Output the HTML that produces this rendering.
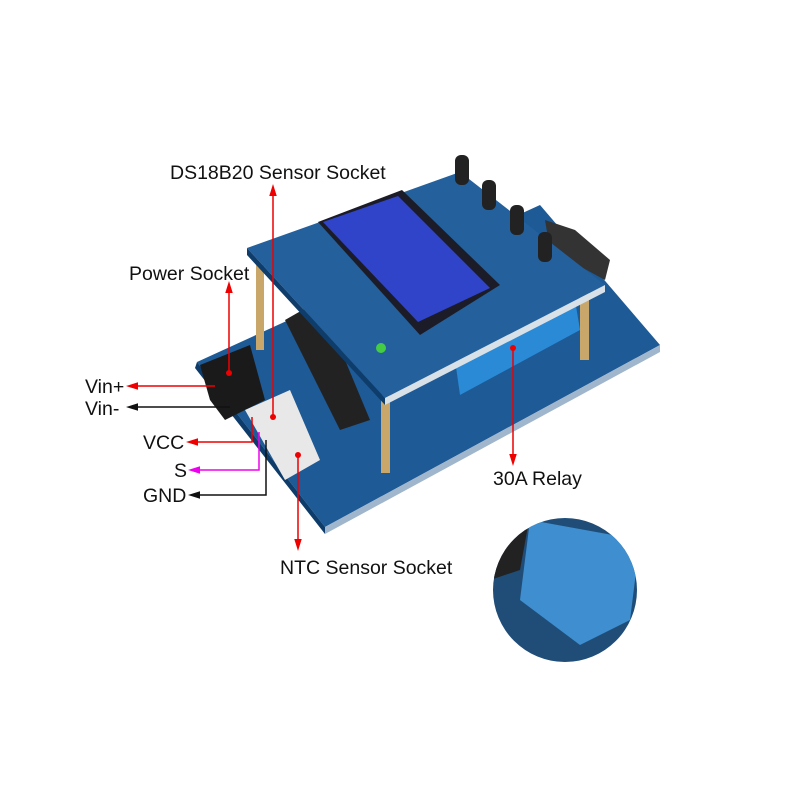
<!DOCTYPE html>
<html><head><style>
body{margin:0;background:#fff;}
svg{display:block}
text{font-family:"Liberation Sans",sans-serif;fill:#111;}
</style></head><body>
<svg width="800" height="800" viewBox="0 0 800 800">
<defs>
<marker id="ar" markerWidth="8" markerHeight="8" refX="4" refY="4" orient="auto"><path d="M0,1.5 L8,4 L0,6.5Z" fill="#e00"/></marker>
<marker id="ab" markerWidth="8" markerHeight="8" refX="4" refY="4" orient="auto"><path d="M0,1.5 L8,4 L0,6.5Z" fill="#111"/></marker>
<marker id="am" markerWidth="8" markerHeight="8" refX="4" refY="4" orient="auto"><path d="M0,1.5 L8,4 L0,6.5Z" fill="#e0e"/></marker>
<clipPath id="cc"><circle cx="565" cy="590" r="72"/></clipPath>
</defs>
<!-- lower board -->
<polygon points="197,362 540,205 660,345 325,527" fill="#1d5a96"/>
<polygon points="197,362 325,527 325,534 195,368" fill="#0e3c6a"/>
<polygon points="325,527 660,345 660,352 325,534" fill="#9fb6cc"/>
<polygon points="455,360 575,300 580,330 460,395" fill="#2a8ad6"/>
<polygon points="200,365 250,345 265,400 225,420 210,400" fill="#1a1a1a"/>
<polygon points="245,410 290,390 320,460 285,480" fill="#e8e8e8"/>
<polygon points="285,320 320,300 370,420 340,430" fill="#222"/>
<rect x="256" y="265" width="8" height="85" fill="#c9a76a"/>
<rect x="381" y="395" width="9" height="78" fill="#c9a76a"/>
<rect x="580" y="290" width="9" height="70" fill="#c9a76a"/>
<polygon points="545,220 575,230 610,260 605,280 550,250" fill="#333"/>
<!-- upper board -->
<polygon points="247,248 460,172 605,285 385,398" fill="#23609c"/>
<polygon points="247,248 385,398 385,405 247,255" fill="#0f3d6b"/>
<polygon points="385,398 605,285 605,292 385,405" fill="#d8e0e8"/>
<polygon points="318,222 402,190 500,285 420,335" fill="#1c1c28"/>
<polygon points="323,222 398,196 490,288 418,322" fill="#2f44c8"/>
<rect x="455" y="155" width="14" height="30" rx="6" fill="#222"/>
<rect x="482" y="180" width="14" height="30" rx="6" fill="#222"/>
<rect x="510" y="205" width="14" height="30" rx="6" fill="#222"/>
<rect x="538" y="232" width="14" height="30" rx="6" fill="#222"/>
<circle cx="381" cy="348" r="5" fill="#4c4"/>
<!-- inset -->
<g clip-path="url(#cc)">
<rect x="490" y="515" width="150" height="150" fill="#1f4d78"/>
<polygon points="530,520 640,540 630,620 580,645 520,600" fill="#3f8fd0"/>
<polygon points="490,515 530,515 520,570 490,580" fill="#222"/>
</g>
<!-- labels -->
<g font-size="19.5">
<text x="170" y="179">DS18B20 Sensor Socket</text>
<text x="129" y="280">Power Socket</text>
<text x="85" y="393">Vin+</text>
<text x="85" y="415">Vin-</text>
<text x="143" y="449">VCC</text>
<text x="174" y="477">S</text>
<text x="143" y="502">GND</text>
<text x="280" y="574">NTC Sensor Socket</text>
<text x="493" y="485">30A Relay</text>
</g>
<g stroke-width="1.5" fill="none">
<path d="M273,417 V190" stroke="#e00" marker-end="url(#ar)"/>
<path d="M229,373 V287" stroke="#e00" marker-end="url(#ar)"/>
<path d="M215,386 H132" stroke="#e00" marker-end="url(#ar)"/>
<path d="M230,407 H132" stroke="#111" marker-end="url(#ab)"/>
<path d="M252,417 V442 H192" stroke="#e00" marker-end="url(#ar)"/>
<path d="M259,432 V470 H194" stroke="#e0e" marker-end="url(#am)"/>
<path d="M266,440 V495 H194" stroke="#111" marker-end="url(#ab)"/>
<path d="M298,455 V545" stroke="#e00" marker-end="url(#ar)"/>
<path d="M513,348 V460" stroke="#e00" marker-end="url(#ar)"/>
</g>
<g fill="#e00"><circle cx="273" cy="417" r="3"/><circle cx="229" cy="373" r="3"/><circle cx="298" cy="455" r="3"/><circle cx="513" cy="348" r="3"/></g>
</svg>
</body></html>
